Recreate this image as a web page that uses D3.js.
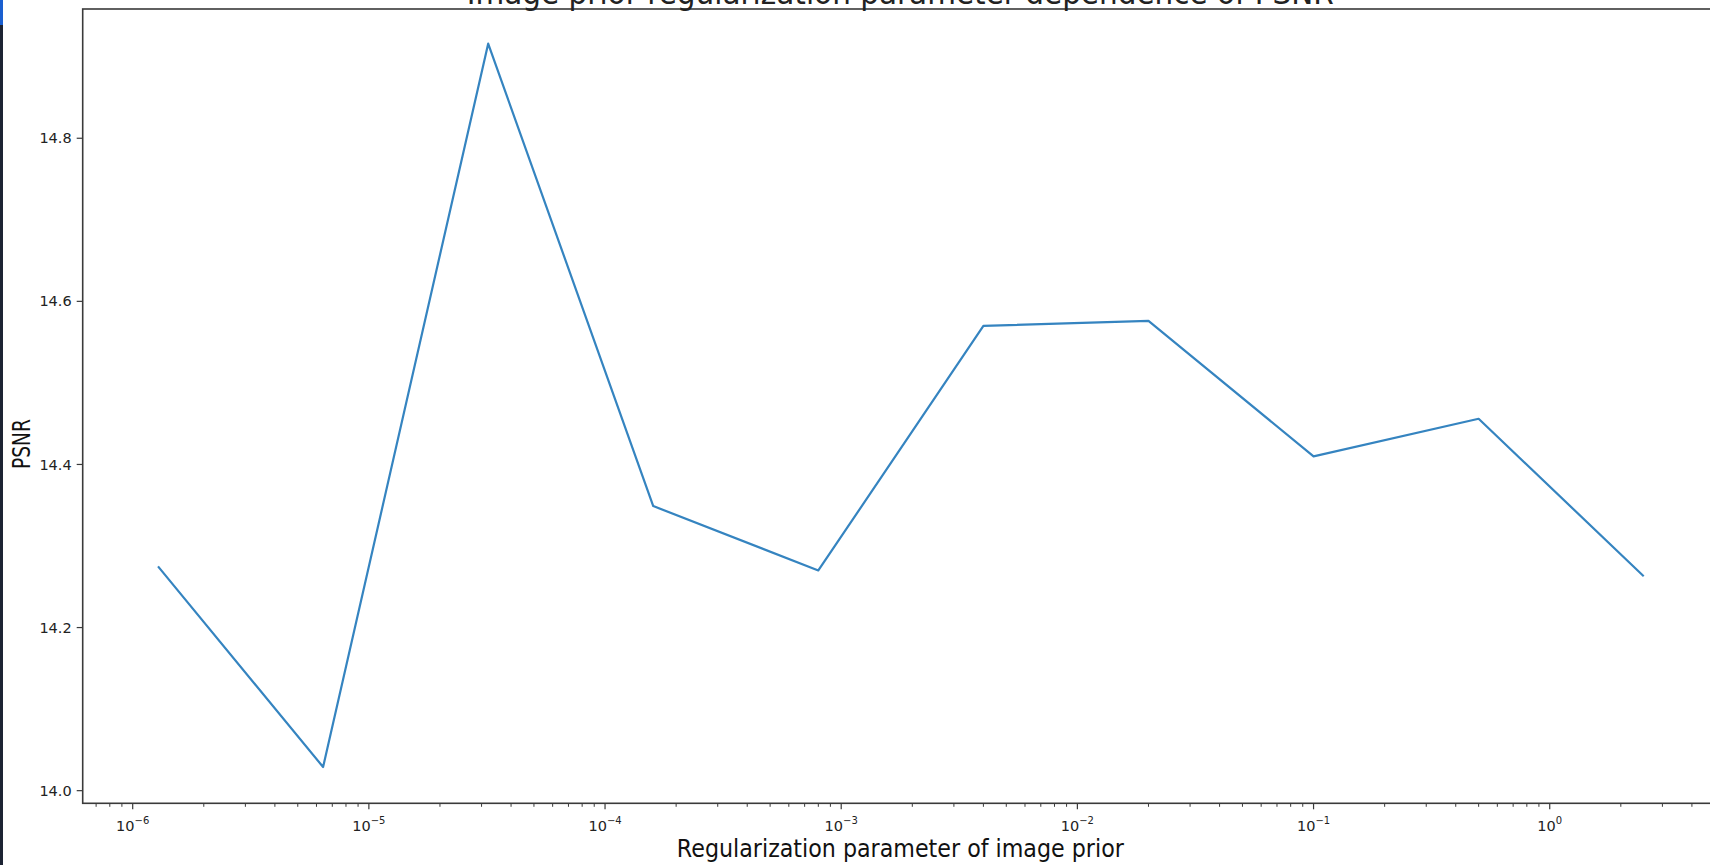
<!DOCTYPE html>
<html>
<head>
<meta charset="utf-8">
<script src="https://cdn.jsdelivr.net/npm/d3@7"></script>
<style>
  html, body { margin: 0; padding: 0; background: #ffffff; overflow: hidden; }
  svg { display: block; font-family: "DejaVu Sans", sans-serif; }
</style>
</head>
<body>
<svg id="chart" width="1710" height="865"></svg>
<script>
// Regularization weights of the image prior (each step is x5)
const lambdas = [1.28e-6, 6.4e-6, 3.2e-5, 1.6e-4, 8e-4, 4e-3, 2e-2, 1e-1, 5e-1, 2.5];
// PSNR obtained for each weight
const psnr = [14.275, 14.029, 14.916, 14.349, 14.270, 14.570, 14.576, 14.410, 14.456, 14.263];
// Axis ticks
const yTicks = [14.0, 14.2, 14.4, 14.6, 14.8];
const xDecades = [-6, -5, -4, -3, -2, -1, 0];

const titleText = "Image prior regularization parameter dependence of PSNR";
const xLabelText = "Regularization parameter of image prior";
const yLabelText = "PSNR";

const svg = d3.select("#chart");
const W = 1710, H = 865;
const plot = { left: 82.7, right: 1718, top: 9, bottom: 803.3 };

const x = d3.scaleLog()
  .domain([Math.pow(10, -6.2117), Math.pow(10, 0.7125)])
  .range([plot.left, plot.right]);
const y = d3.scaleLinear()
  .domain([13.9845, 14.9585])
  .range([plot.bottom, plot.top]);

// data line
const line = d3.line().x(d => x(d[0])).y(d => y(d[1]));
svg.append("path")
  .datum(lambdas.map((l, i) => [l, psnr[i]]))
  .attr("d", line)
  .attr("fill", "none")
  .attr("stroke", "#3584c0")
  .attr("stroke-width", 2.2)
  .attr("stroke-linejoin", "round");

// frame
svg.append("rect")
  .attr("x", plot.left).attr("y", plot.top)
  .attr("width", plot.right - plot.left).attr("height", plot.bottom - plot.top)
  .attr("fill", "none").attr("stroke", "#3a3a3a").attr("stroke-width", 1.6);

// x axis: major decades with minor ticks
const minorTicks = [];
for (let e = -7; e <= 1; e++) {
  for (let m = 2; m <= 9; m++) {
    const v = m * Math.pow(10, e);
    if (x(v) >= plot.left && x(v) <= plot.right) minorTicks.push(v);
  }
}
const xAxisG = svg.append("g").attr("transform", `translate(0,${plot.bottom})`);
xAxisG.selectAll("line.minor").data(minorTicks).enter().append("line")
  .attr("x1", d => x(d)).attr("x2", d => x(d))
  .attr("y1", 0).attr("y2", 3.5)
  .attr("stroke", "#3a3a3a").attr("stroke-width", 1);
const majors = xDecades.map(e => Math.pow(10, e));
xAxisG.selectAll("line.major").data(majors).enter().append("line")
  .attr("x1", d => x(d)).attr("x2", d => x(d))
  .attr("y1", 0).attr("y2", 6)
  .attr("stroke", "#3a3a3a").attr("stroke-width", 1.2);
const xLab = xAxisG.selectAll("text.tick").data(xDecades).enter().append("text")
  .attr("x", d => x(Math.pow(10, d)))
  .attr("y", 28)
  .attr("text-anchor", "middle")
  .attr("font-size", 14.5)
  .attr("fill", "#222");
xLab.append("tspan").text("10");
xLab.append("tspan")
  .attr("dy", -7)
  .attr("font-size", 10)
  .text(d => d === 0 ? "0" : "\u2212" + Math.abs(d));

// y axis
const yAxisG = svg.append("g");
yAxisG.selectAll("line").data(yTicks).enter().append("line")
  .attr("x1", plot.left - 6).attr("x2", plot.left)
  .attr("y1", d => y(d)).attr("y2", d => y(d))
  .attr("stroke", "#3a3a3a").attr("stroke-width", 1.2);
yAxisG.selectAll("text").data(yTicks).enter().append("text")
  .attr("x", plot.left - 11)
  .attr("y", d => y(d))
  .attr("dy", "0.35em")
  .attr("text-anchor", "end")
  .attr("font-size", 14.5)
  .attr("fill", "#222")
  .text(d => d3.format(".1f")(d));

const cx = (plot.left + plot.right) / 2;

// title (sits partly above the top edge)
svg.append("text")
  .attr("x", cx).attr("y", 4)
  .attr("text-anchor", "middle")
  .attr("font-size", 32)
  .attr("fill", "#222")
  .attr("textLength", 867).attr("lengthAdjust", "spacingAndGlyphs")
  .text(titleText);

// axis labels
svg.append("text")
  .attr("x", cx).attr("y", 857)
  .attr("text-anchor", "middle")
  .attr("font-size", 24)
  .attr("fill", "#111")
  .attr("textLength", 447).attr("lengthAdjust", "spacingAndGlyphs")
  .text(xLabelText);

svg.append("text")
  .attr("transform", "translate(30,444) rotate(-90)")
  .attr("text-anchor", "middle")
  .attr("font-size", 24)
  .attr("fill", "#111")
  .attr("textLength", 50).attr("lengthAdjust", "spacingAndGlyphs")
  .text(yLabelText);

// window edge strip on the left
svg.append("rect").attr("x", 0).attr("y", 0).attr("width", 3).attr("height", H).attr("fill", "#1c2333");
svg.append("rect").attr("x", 0).attr("y", 0).attr("width", 3).attr("height", 25).attr("fill", "#1a5fd0");
</script>
</body>
</html>
